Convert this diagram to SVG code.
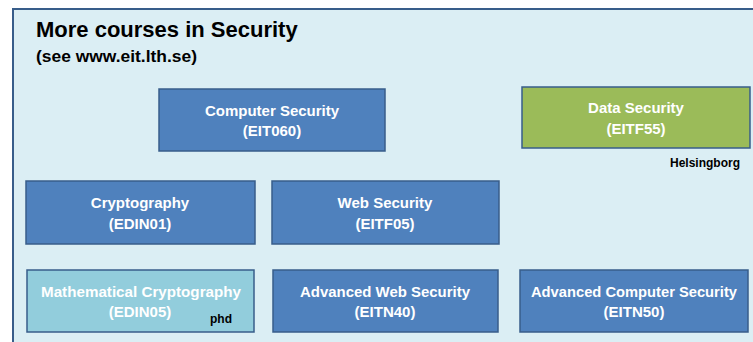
<svg xmlns="http://www.w3.org/2000/svg" width="753" height="342" viewBox="0 0 753 342">
<style>
.box{stroke:#385d8a;stroke-width:1.5}
.blue{fill:#4f81bd}
.t{font-family:"Liberation Sans",Arial,sans-serif;font-weight:bold;font-size:15px;fill:#ffffff;text-anchor:middle}
.k{font-family:"Liberation Sans",Arial,sans-serif;font-weight:bold;fill:#000000}
</style>
<rect x="0" y="0" width="753" height="342" fill="#ffffff"/>
<rect x="13" y="9" width="745" height="340" fill="#dbeef4" stroke="#385d8a" stroke-width="2"/>
<text class="k" x="36" y="37" font-size="22">More courses in Security</text>
<text class="k" x="36" y="62" font-size="17" textLength="161" lengthAdjust="spacingAndGlyphs">(see www.eit.lth.se)</text>
<g id="computer-security"><rect class="box blue" x="159" y="89" width="226" height="62"/><text class="t" x="272" y="116">Computer Security</text><text class="t" x="272" y="136">(EIT060)</text></g>
<g id="data-security"><rect class="box" fill="#9bbb59" x="522" y="87" width="228" height="61"/><text class="t" x="636" y="113">Data Security</text><text class="t" x="636" y="134">(EITF55)</text><text class="k" x="740" y="167" font-size="12" text-anchor="end">Helsingborg</text></g>
<g id="cryptography"><rect class="box blue" x="26" y="181" width="229" height="63"/><text class="t" x="140" y="208">Cryptography</text><text class="t" x="140" y="229">(EDIN01)</text></g>
<g id="web-security"><rect class="box blue" x="272" y="181" width="227" height="63"/><text class="t" x="385" y="208">Web Security</text><text class="t" x="385" y="229">(EITF05)</text></g>
<g id="math-crypto"><rect class="box" fill="#92cddc" x="27" y="270" width="227" height="62"/><text class="t" x="141" y="297" textLength="200" lengthAdjust="spacingAndGlyphs">Mathematical Cryptography</text><text class="t" x="140" y="317">(EDIN05)</text><text class="k" x="210" y="323" font-size="12">phd</text></g>
<g id="adv-web"><rect class="box blue" x="273" y="270" width="225" height="62"/><text class="t" x="385" y="297" textLength="170" lengthAdjust="spacingAndGlyphs">Advanced Web Security</text><text class="t" x="385" y="317">(EITN40)</text></g>
<g id="adv-computer"><rect class="box blue" x="520" y="270" width="228" height="62"/><text class="t" x="634" y="297" textLength="206" lengthAdjust="spacingAndGlyphs">Advanced Computer Security</text><text class="t" x="634" y="317">(EITN50)</text></g>
<g id="connectors"></g>
</svg>
